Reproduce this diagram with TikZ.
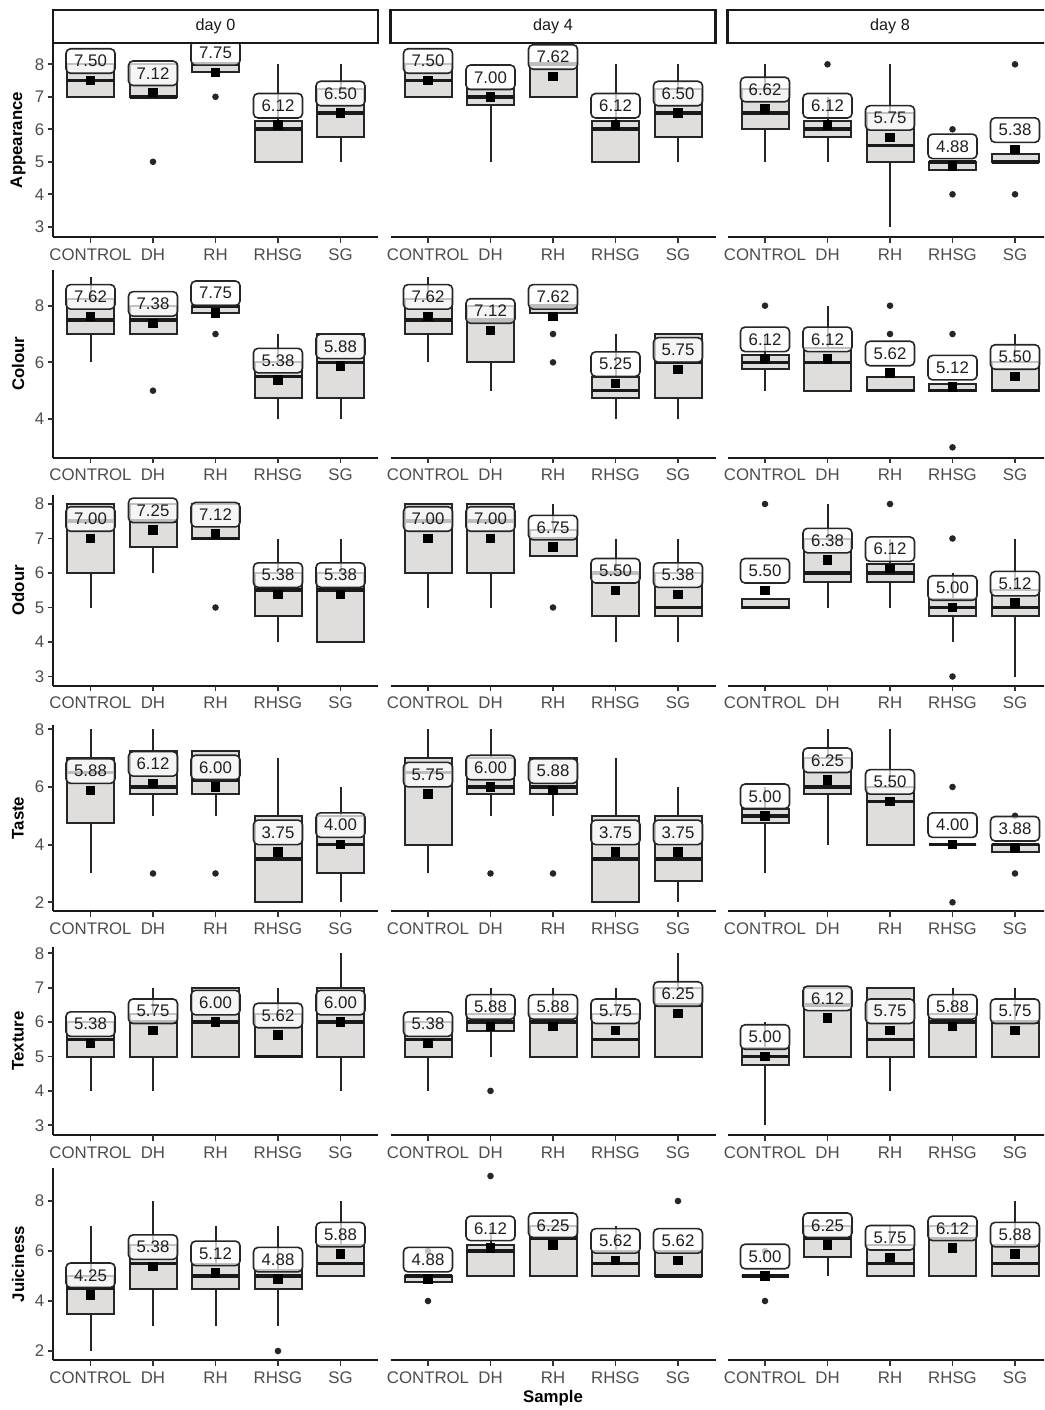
\documentclass[tikz,border=0pt]{standalone}
\usepackage{fontspec}
\setmainfont{Liberation Sans}
\definecolor{boxgray}{HTML}{E0DEDC}
\definecolor{tickgray}{HTML}{4D4D4D}
\definecolor{dk}{HTML}{262626}
\newcommand\tfont{\fontsize{16.8}{18}\selectfont}
\newcommand\Yv[1]{\ra+(8-(#1))*\rs}
\newcommand\setrow[5]{\def\ra{#1}\def\rs{#2}\def\rtop{#3}\def\raxis{#4}\def\rn{#5}}
\newcommand\setcol[2]{\def\cx{#1}\def\cn{#2}}
\newcommand\bp[9]{%
  \pgfmathsetmacro\bx{\cx+(#1-0.4)*62.5}%
  \draw[whisk] (\bx,{\Yv{#2}}) -- (\bx,{\Yv{#3}});
  \draw[whisk] (\bx,{\Yv{#5}}) -- (\bx,{\Yv{#6}});
  \draw[boxst] ({\bx-23.5},{\Yv{#3}}) rectangle ({\bx+23.5},{\Yv{#5}});
  \draw[medst] ({\bx-23.5},{\Yv{#4}}) -- ({\bx+23.5},{\Yv{#4}});
  \def\olist{#9}%
  \ifx\olist\empty\else
    \foreach \o in {#9}{\fill[dk] (\bx,{\Yv{\o}}) circle (3.3);}%
  \fi
  \node[meanpt] (m\rn\cn#1) at (\bx,{\Yv{#7}}) {};
  \node[labst] (l\rn\cn#1) at (\bx,{\Yv{#7}-19.5}) {#8};
}
\newcommand\xaxis{%
  \draw[axisln] (\cx,\raxis) -- ({\cx+325},\raxis);
  \foreach \i/\t in {1/CONTROL,2/DH,3/RH,4/RHSG,5/SG}{%
    \pgfmathsetmacro\tx{\cx+(\i-0.4)*62.5}%
    \draw[tickln] (\tx,\raxis) -- (\tx,{\raxis+5.5});
    \node[xlab] (x\rn\cn\i) at (\tx,{\raxis+17.5}) {\t};
  }}
\newcommand\yaxis[2]{%
  \draw[axisln] (\cx,\rtop) -- (\cx,\raxis);
  \foreach \v in {#1}{%
    \draw[tickln] ({\cx-5.5},{\Yv{\v}}) -- (\cx,{\Yv{\v}});
    \node[ylab] (y\rn\v) at ({\cx-8.5},{\Yv{\v}}) {\v};
  }
  \node[ytitle] (t\rn) at (18,{(\rtop+\raxis)/2}) {#2};
}
\begin{document}
\begin{tikzpicture}[x=1pt,y=-1pt,
  whisk/.style={draw=dk,line width=2},
  boxst/.style={draw=dk,line width=2,fill=boxgray},
  medst/.style={draw=black!90,line width=3.6},
  meanpt/.style={rectangle,fill=black,minimum size=9.5,inner sep=0},
  labst/.style={rectangle,rounded corners=4.5,draw=dk,line width=1.6,fill=white,fill opacity=0.72,text opacity=1,minimum width=49,minimum height=24.5,inner sep=0,font=\tfont,text=black!88},
  axisln/.style={draw=black!90,line width=2.4},
  tickln/.style={draw=black!80,line width=1.8},
  xlab/.style={font=\tfont,text=tickgray,inner sep=0},
  ylab/.style={font=\tfont,text=tickgray,inner sep=0,anchor=east},
  ytitle/.style={font=\tfont\bfseries,text=black,rotate=90,inner sep=0},
  stripst/.style={draw=black!90,line width=2.4,fill=white},
  striptext/.style={font=\fontsize{16.2}{18}\selectfont,text=black!90,inner sep=0}]
\clip (0,0) rectangle (1044,1410);
\fill[white] (0,0) rectangle (1044,1410);

% ---------------- Row A: Appearance
\setrow{64.3}{32.5}{43}{237}{A}
\setcol{53}{a}
\bp{1}{7}{7}{7.5}{8}{8}{7.5}{7.50}{}
\bp{2}{7}{7}{7}{8}{8}{7.125}{7.12}{5}
\bp{3}{7.75}{7.75}{8}{8}{8}{7.75}{7.75}{7}
\bp{4}{5}{5}{6}{6.25}{8}{6.125}{6.12}{}
\bp{5}{5}{5.75}{6.5}{7.25}{8}{6.5}{6.50}{}
\xaxis
\yaxis{3,4,5,6,7,8}{Appearance}
\setcol{390.5}{b}
\bp{1}{7}{7}{7.5}{8}{8}{7.5}{7.50}{}
\bp{2}{5}{6.75}{7}{7.25}{7.25}{7}{7.00}{}
\bp{3}{7}{7}{8}{8}{8}{7.625}{7.62}{}
\bp{4}{5}{5}{6}{6.25}{8}{6.125}{6.12}{}
\bp{5}{5}{5.75}{6.5}{7.25}{8}{6.5}{6.50}{}
\xaxis
\setcol{727.5}{c}
\bp{1}{5}{6}{6.5}{7.25}{8}{6.625}{6.62}{}
\bp{2}{5}{5.75}{6}{6.25}{7}{6.125}{6.12}{8}
\bp{3}{3}{5}{5.5}{6.5}{8}{5.75}{5.75}{}
\bp{4}{4.75}{4.75}{5}{5}{5}{4.875}{4.88}{6,4}
\bp{5}{5}{5}{5}{5.25}{5.25}{5.375}{5.38}{8,4}
\xaxis

% ---------------- Row B: Colour
\setrow{305.7}{28.33}{270}{457.7}{B}
\setcol{53}{a}
\bp{1}{6}{7}{7.5}{8.25}{9}{7.625}{7.62}{}
\bp{2}{7}{7}{7.5}{8}{8}{7.375}{7.38}{5}
\bp{3}{7.75}{7.75}{8}{8}{8}{7.75}{7.75}{7}
\bp{4}{4}{4.75}{5.5}{6}{7}{5.375}{5.38}{}
\bp{5}{4}{4.75}{6}{7}{7}{5.875}{5.88}{}
\xaxis
\yaxis{4,6,8}{Colour}
\setcol{390.5}{b}
\bp{1}{6}{7}{7.5}{8.25}{9}{7.625}{7.62}{}
\bp{2}{5}{6}{7.5}{8}{8}{7.125}{7.12}{}
\bp{3}{7.75}{7.75}{8}{8}{8}{7.625}{7.62}{7,6}
\bp{4}{4}{4.75}{5}{5.5}{7}{5.25}{5.25}{}
\bp{5}{4}{4.75}{6}{7}{7}{5.75}{5.75}{}
\xaxis
\setcol{727.5}{c}
\bp{1}{5}{5.75}{6}{6.25}{7}{6.125}{6.12}{8}
\bp{2}{5}{5}{6}{6.5}{8}{6.125}{6.12}{}
\bp{3}{5}{5}{5}{5.5}{5.5}{5.625}{5.62}{8,7}
\bp{4}{5}{5}{5}{5.25}{5.25}{5.125}{5.12}{7,3}
\bp{5}{5}{5}{5}{6}{7}{5.5}{5.50}{}
\xaxis

% ---------------- Row C: Odour
\setrow{504}{34.5}{495}{685.7}{C}
\setcol{53}{a}
\bp{1}{5}{6}{7.5}{8}{8}{7}{7.00}{}
\bp{2}{6}{6.75}{7.5}{8}{8}{7.25}{7.25}{}
\bp{3}{7}{7}{7}{8}{8}{7.125}{7.12}{5}
\bp{4}{4}{4.75}{5.5}{6}{7}{5.375}{5.38}{}
\bp{5}{4}{4}{5.5}{6}{7}{5.375}{5.38}{}
\xaxis
\yaxis{3,4,5,6,7,8}{Odour}
\setcol{390.5}{b}
\bp{1}{5}{6}{7.5}{8}{8}{7}{7.00}{}
\bp{2}{5}{6}{7.5}{8}{8}{7}{7.00}{}
\bp{3}{6.5}{6.5}{7}{7.25}{8}{6.75}{6.75}{5}
\bp{4}{4}{4.75}{6}{6}{7}{5.5}{5.50}{}
\bp{5}{4}{4.75}{5}{6}{7}{5.375}{5.38}{}
\xaxis
\setcol{727.5}{c}
\bp{1}{5}{5}{5}{5.25}{5.25}{5.5}{5.50}{8}
\bp{2}{5}{5.75}{6}{7}{8}{6.375}{6.38}{}
\bp{3}{5}{5.75}{6}{6.25}{7}{6.125}{6.12}{8}
\bp{4}{4}{4.75}{5}{5.25}{6}{5}{5.00}{7,3}
\bp{5}{3}{4.75}{5}{5.5}{7}{5.125}{5.12}{}
\xaxis

% ---------------- Row D: Taste
\setrow{729.3}{28.83}{725}{911}{D}
\setcol{53}{a}
\bp{1}{3}{4.75}{6.5}{7}{8}{5.875}{5.88}{}
\bp{2}{5}{5.75}{6}{7.25}{8}{6.125}{6.12}{3}
\bp{3}{5}{5.75}{6.25}{7.25}{7.25}{6}{6.00}{3}
\bp{4}{2}{2}{3.5}{5}{7}{3.75}{3.75}{}
\bp{5}{2}{3}{4}{5}{6}{4}{4.00}{}
\xaxis
\yaxis{2,4,6,8}{Taste}
\setcol{390.5}{b}
\bp{1}{3}{4}{6.5}{7}{8}{5.75}{5.75}{}
\bp{2}{5}{5.75}{6}{7}{8}{6}{6.00}{3}
\bp{3}{5}{5.75}{6}{7}{7}{5.875}{5.88}{3}
\bp{4}{2}{2}{3.5}{5}{7}{3.75}{3.75}{}
\bp{5}{2}{2.75}{3.5}{5}{6}{3.75}{3.75}{}
\xaxis
\setcol{727.5}{c}
\bp{1}{3}{4.75}{5}{5.25}{6}{5}{5.00}{}
\bp{2}{4}{5.75}{6}{7}{8}{6.25}{6.25}{}
\bp{3}{4}{4}{5.5}{6}{8}{5.5}{5.50}{}
\bp{4}{4}{4}{4}{4}{4}{4}{4.00}{6,2}
\bp{5}{3.75}{3.75}{4}{4}{4}{3.875}{3.88}{5,3}
\xaxis

% ---------------- Row E: Texture
\setrow{953.3}{34.4}{946.7}{1135}{E}
\setcol{53}{a}
\bp{1}{4}{5}{5.5}{6}{6}{5.375}{5.38}{}
\bp{2}{4}{5}{6}{6.25}{7}{5.75}{5.75}{}
\bp{3}{5}{5}{6}{7}{7}{6}{6.00}{}
\bp{4}{5}{5}{5}{6.25}{7}{5.625}{5.62}{}
\bp{5}{4}{5}{6}{7}{8}{6}{6.00}{}
\xaxis
\yaxis{3,4,5,6,7,8}{Texture}
\setcol{390.5}{b}
\bp{1}{4}{5}{5.5}{6}{6}{5.375}{5.38}{}
\bp{2}{5}{5.75}{6}{6.25}{7}{5.875}{5.88}{4}
\bp{3}{5}{5}{6}{6.25}{7}{5.875}{5.88}{}
\bp{4}{5}{5}{5.5}{6.25}{7}{5.75}{5.75}{}
\bp{5}{5}{5}{6.5}{7}{8}{6.25}{6.25}{}
\xaxis
\setcol{727.5}{c}
\bp{1}{3}{4.75}{5}{5.25}{6}{5}{5.00}{}
\bp{2}{5}{5}{6.5}{7}{7}{6.125}{6.12}{}
\bp{3}{4}{5}{5.5}{7}{7}{5.75}{5.75}{}
\bp{4}{5}{5}{6}{6.25}{7}{5.875}{5.88}{}
\bp{5}{5}{5}{6}{6}{7}{5.75}{5.75}{}
\xaxis

% ---------------- Row F: Juiciness
\setrow{1201}{25}{1168}{1360}{F}
\setcol{53}{a}
\bp{1}{2}{3.5}{4.5}{5}{7}{4.25}{4.25}{}
\bp{2}{3}{4.5}{5.5}{6.25}{8}{5.375}{5.38}{}
\bp{3}{3}{4.5}{5}{5.5}{7}{5.125}{5.12}{}
\bp{4}{3}{4.5}{5}{5.25}{7}{4.875}{4.88}{2}
\bp{5}{5}{5}{5.5}{6.25}{8}{5.875}{5.88}{}
\xaxis
\yaxis{2,4,6,8}{Juiciness}
\setcol{390.5}{b}
\bp{1}{4.75}{4.75}{5}{5}{5}{4.875}{4.88}{4,6}
\bp{2}{5}{5}{6}{6.25}{7}{6.125}{6.12}{9}
\bp{3}{5}{5}{6.5}{7}{7}{6.25}{6.25}{}
\bp{4}{5}{5}{5.5}{6}{7}{5.625}{5.62}{}
\bp{5}{5}{5}{5}{6}{6}{5.625}{5.62}{8}
\xaxis
\setcol{727.5}{c}
\bp{1}{5}{5}{5}{5}{5}{5}{5.00}{4,6}
\bp{2}{5}{5.75}{6.5}{7}{7}{6.25}{6.25}{}
\bp{3}{5}{5}{5.5}{6.25}{7}{5.75}{5.75}{}
\bp{4}{5}{5}{6.5}{7}{7}{6.125}{6.12}{}
\bp{5}{5}{5}{5.5}{6.25}{8}{5.875}{5.88}{}
\xaxis

% ---------------- strips and title
\draw[stripst] (53,10) rectangle (378,43);
\node[striptext] (s0) at (215.5,26.5) {day 0};
\draw[stripst] (390.5,10) rectangle (715.5,43);
\node[striptext] (s4) at (553,26.5) {day 4};
\draw[stripst] (727.5,10) rectangle (1052.5,43);
\node[striptext] (s8) at (890,26.5) {day 8};
\node[font=\tfont\bfseries,inner sep=0] (xt) at (553,1398) {Sample};
\end{tikzpicture}
\end{document}
